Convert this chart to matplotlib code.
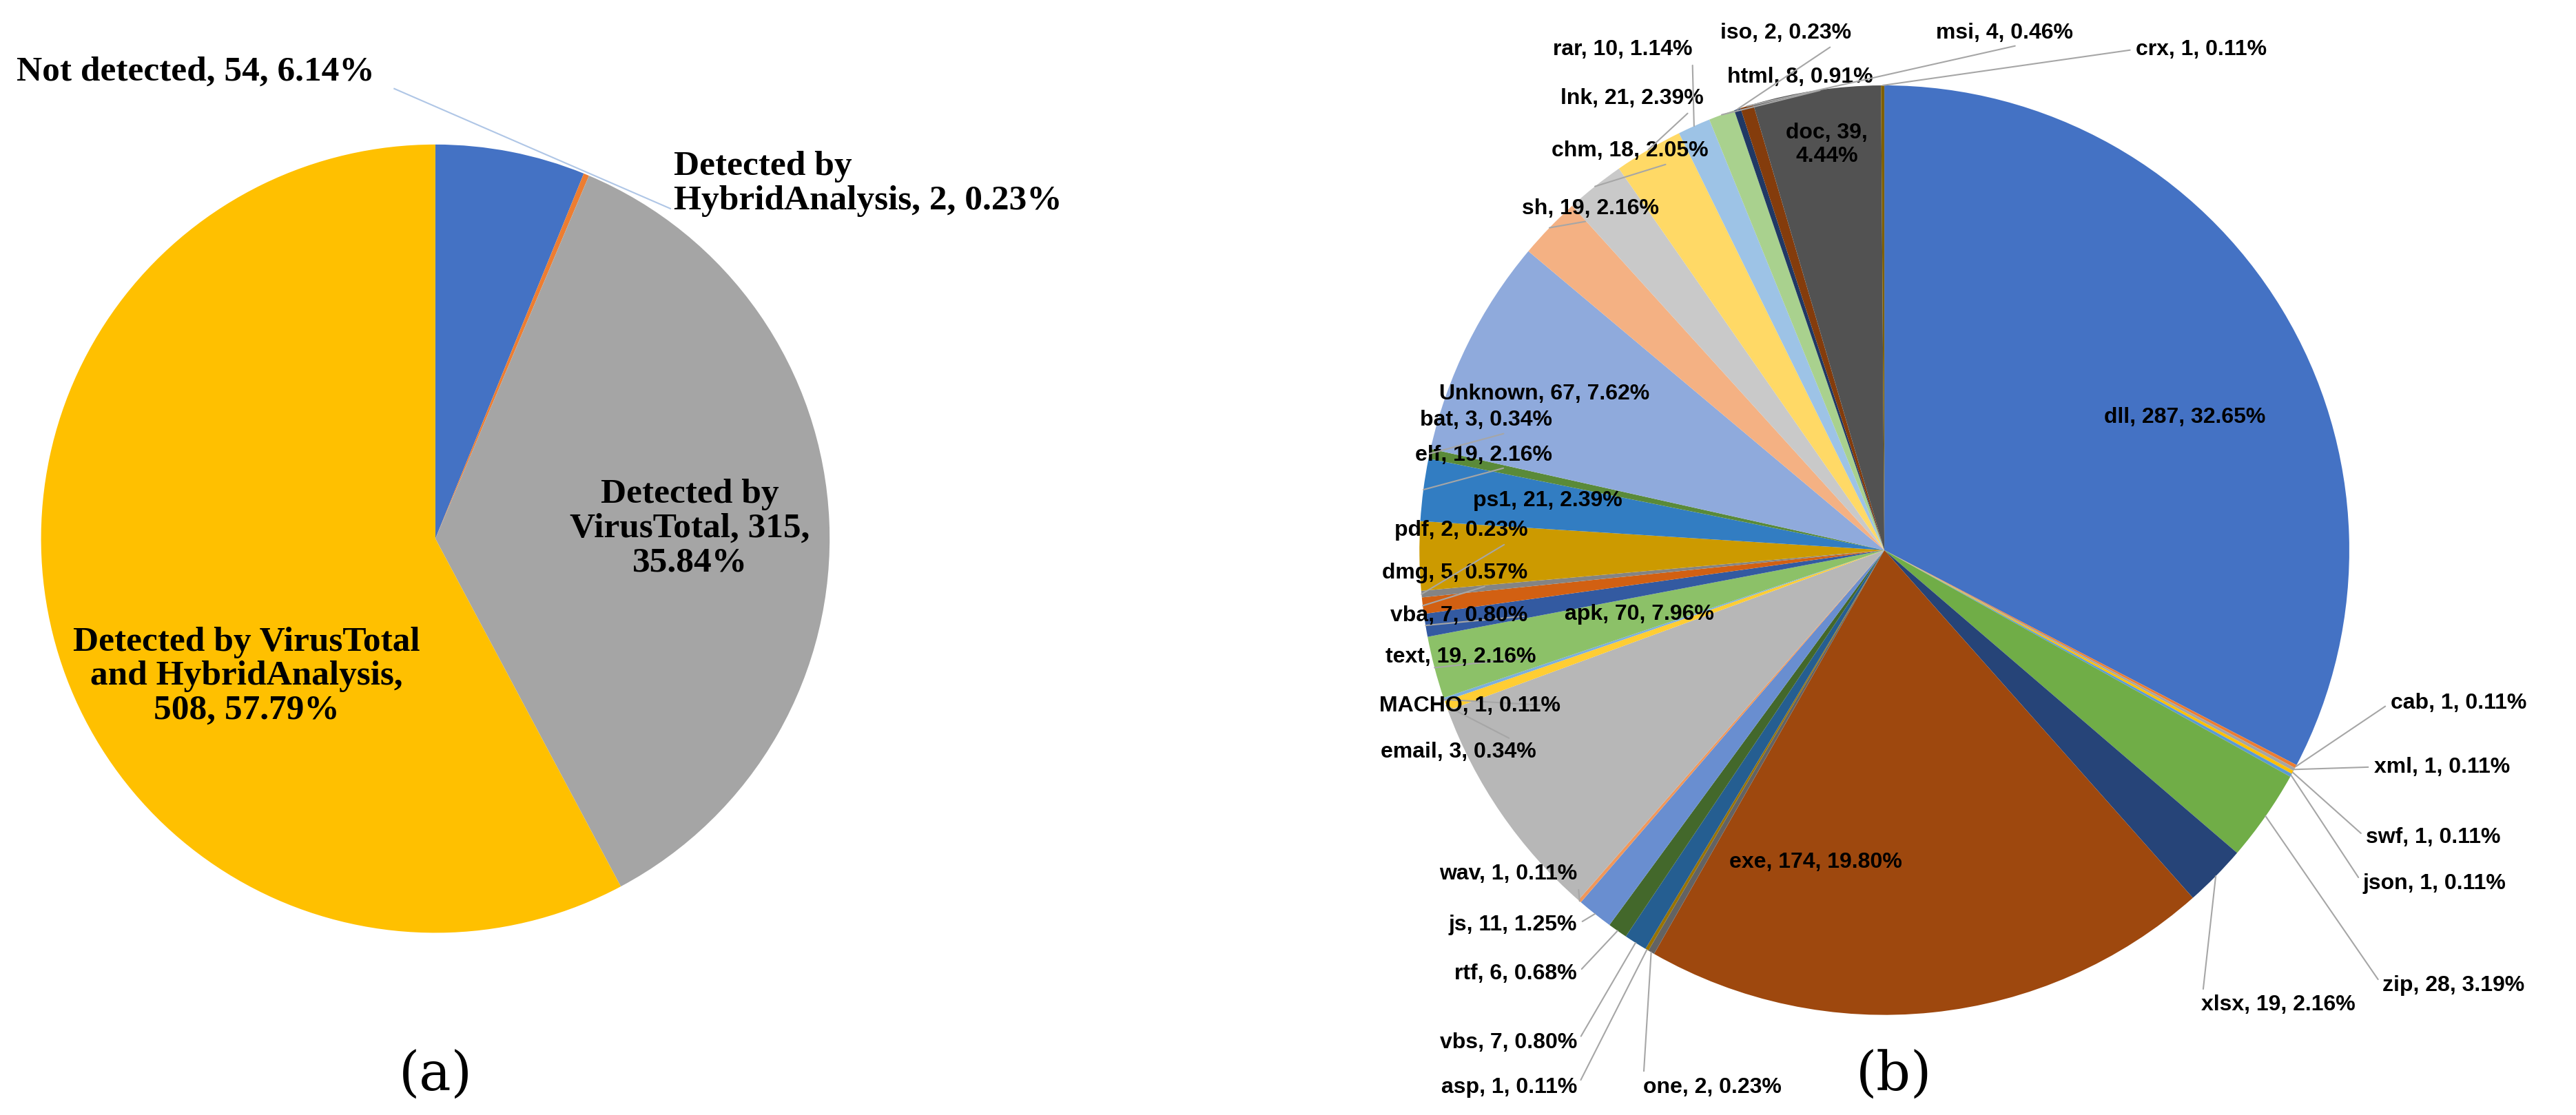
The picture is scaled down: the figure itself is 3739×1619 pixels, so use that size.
import numpy as np
import matplotlib.pyplot as plt

W, H = 3739, 1619
S = W / 1568.0  # reference measured on a 1568px-wide preview

# ---- data (a)
a_labels = ["Not detected, 54, 6.14%", "Detected by\nHybridAnalysis, 2, 0.23%",
            "Detected by\nVirusTotal, 315,\n35.84%",
            "Detected by VirusTotal\nand HybridAnalysis,\n508, 57.79%"]
a_values = [54, 2, 315, 508]
a_colors = ["#4472C4", "#ED7D31", "#A5A5A5", "#FFC000"]

# ---- data (b)
b_names = ["dll", "cab", "xml", "swf", "json", "zip", "xlsx", "exe", "one", "asp",
           "vbs", "rtf", "js", "wav", "apk", "email", "MACHO", "text", "vba", "dmg",
           "pdf", "ps1", "elf", "bat", "Unknown", "sh", "chm", "lnk", "rar", "html",
           "iso", "msi", "doc", "crx"]
b_values = [287, 1, 1, 1, 1, 28, 19, 174, 2, 1,
            7, 6, 11, 1, 70, 3, 1, 19, 7, 5,
            2, 21, 19, 3, 67, 19, 18, 21, 10, 8,
            2, 4, 39, 1]
b_pcts = ["32.65", "0.11", "0.11", "0.11", "0.11", "3.19", "2.16", "19.80", "0.23", "0.11",
          "0.80", "0.68", "1.25", "0.11", "7.96", "0.34", "0.11", "2.16", "0.80", "0.57",
          "0.23", "2.39", "2.16", "0.34", "7.62", "2.16", "2.05", "2.39", "1.14", "0.91",
          "0.23", "0.46", "4.44", "0.11"]
b_colors = ["#4472C4", "#ED7D31", "#A5A5A5", "#FFC000", "#5B9BD5", "#70AD47",
            "#264478", "#9E480E", "#636363", "#997300", "#255E91", "#43682B",
            "#698ED0", "#F1975A", "#B7B7B7", "#FFCD33", "#7CAFDD", "#8CC168",
            "#335AA1", "#D26012", "#848484", "#CC9A00", "#327DC2", "#5A8A39",
            "#8FAADC", "#F4B183", "#C9C9C9", "#FFD966", "#9DC3E6", "#A9D18E",
            "#203864", "#843C0C", "#525252", "#7F6000"]

# label positions in preview coords: (x, y, ha)
inside = {"dll": (1330, 254), "exe": (1105, 525), "apk": (998, 374),
          "Unknown": (940, 240), "ps1": (942, 305), "doc": (1112, 88)}
outside = {
    "crx": (1300, 30, "left"), "msi": (1262, 20, "right"), "iso": (1127, 20, "right"),
    "html": (1140, 47, "right"), "rar": (1030, 30, "right"), "lnk": (1037, 60, "right"),
    "chm": (1040, 92, "right"), "sh": (1010, 127, "right"), "bat": (945, 256, "right"),
    "elf": (945, 277, "right"), "pdf": (930, 323, "right"), "dmg": (930, 349, "right"),
    "vba": (930, 375, "right"), "text": (935, 400, "right"), "MACHO": (950, 430, "right"),
    "email": (935, 458, "right"), "wav": (960, 532, "right"), "js": (960, 563, "right"),
    "rtf": (960, 593, "right"), "vbs": (960, 635, "right"), "asp": (960, 662, "right"),
    "one": (1000, 662, "left"), "xlsx": (1340, 612, "left"), "zip": (1450, 600, "left"),
    "json": (1438, 538, "left"), "swf": (1440, 510, "left"), "xml": (1445, 467, "left"),
    "cab": (1455, 428, "left"),
}


def P(x, y):
    return x * S, H - y * S


fig = plt.figure(figsize=(W / 100, H / 100), dpi=100)
ax = fig.add_axes([0, 0, 1, 1])

# ---- pie (a)
ca = P(265, 328)
ra = 240 * S
ax.pie(a_values, colors=a_colors, startangle=90, counterclock=False,
       center=ca, radius=ra, frame=True,
       wedgeprops=dict(edgecolor="none"))
serif = dict(family="Liberation Serif", weight="bold", fontsize=37)
ax.text(*P(10, 44), a_labels[0], ha="left", va="center", **serif)
ax.text(*P(410, 112), a_labels[1], ha="left", va="center", linespacing=1.1, **serif)
ax.plot(*zip(P(240, 54), P(408, 127)), color="#AFC6E6", lw=1.5)
ax.text(*P(420, 322), a_labels[2], ha="center", va="center", linespacing=1.1, **serif)
ax.text(*P(150, 412), a_labels[3], ha="center", va="center", linespacing=1.1, **serif)

# ---- pie (b)
cb = P(1147, 335)
rb = 283 * S
ax.pie(b_values, colors=b_colors, startangle=90, counterclock=False,
       center=cb, radius=rb, frame=True,
       wedgeprops=dict(edgecolor="none"))

total = float(sum(b_values))
cum = 0.0
sans = dict(family="Liberation Sans", weight="bold", fontsize=23)
for name, v, pct in zip(b_names, b_values, b_pcts):
    mid = np.deg2rad(90 - 360 * (cum + v / 2) / total)
    cum += v
    txt = f"{name}, {v}, {pct}%"
    if name in inside:
        if name == "doc":
            txt = f"doc, {v},\n{pct}%"
        ax.text(*P(*inside[name]), txt, ha="center", va="center", **sans)
        continue
    x, y, ha = outside[name]
    edge = (cb[0] + rb * np.cos(mid), cb[1] + rb * np.sin(mid))
    rel = (1, 0.5) if ha == "right" else (0, 0.5)
    ax.annotate(txt, xy=edge, xytext=P(x, y), ha=ha, va="center",
                arrowprops=dict(arrowstyle="-", color="#A6A6A6", lw=1.5,
                                relpos=rel, shrinkA=4, shrinkB=0), **sans)

ax.text(*P(265, 655), "(a)", ha="center", va="center", family="DejaVu Serif", fontsize=56)
ax.text(*P(1153, 655), "(b)", ha="center", va="center", family="DejaVu Serif", fontsize=56)

ax.set_xlim(0, W)
ax.set_ylim(0, H)
ax.set_aspect("equal")
ax.axis("off")

fig.savefig("out.png", dpi=100)
